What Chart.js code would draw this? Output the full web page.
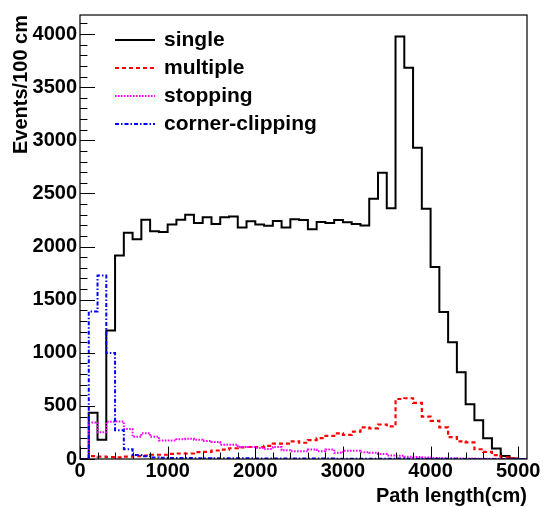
<!DOCTYPE html>
<html>
<head>
<meta charset="utf-8">
<script src="https://cdn.jsdelivr.net/npm/chart.js@4.4.1/dist/chart.umd.min.js"></script>
<style>
  html, body { margin: 0; padding: 0; background: #fff; }
  #wrap { width: 547px; height: 507px; position: relative; }
</style>
</head>
<body>
<div id="wrap"><canvas id="c"></canvas></div>
<script>
// Bin edges (cm), 100 cm bins
const binEdges = [0,100,200,300,400,500,600,700,800,900,1000,1100,1200,1300,1400,1500,1600,1700,1800,1900,
  2000,2100,2200,2300,2400,2500,2600,2700,2800,2900,3000,3100,3200,3300,3400,3500,3600,3700,3800,3900,
  4000,4100,4200,4300,4400,4500,4600,4700,4800,4900,5000,5100];

const seriesNames = ['single', 'multiple', 'stopping', 'corner-clipping'];

const singleVals = [0,435,181,1209,1915,2130,2069,2253,2145,2138,2207,2253,2299,2222,2277,2212,2277,2284,2180,2238,
  2207,2195,2241,2180,2256,2250,2164,2231,2222,2250,2228,2213,2198,2449,2695,2360,3978,3683,2931,2357,
  1808,1384,1099,817,516,365,196,98,28,5,0];

const multipleVals = [0,28,22,18,15,22,28,31,40,40,49,52,52,64,68,80,89,101,110,113,
  113,123,144,144,166,153,178,196,218,242,227,258,298,288,325,307,565,572,528,399,
  359,298,205,166,156,92,67,37,16,5,0];

const stoppingVals = [0,344,251,350,353,282,209,242,209,175,175,187,190,182,169,160,135,135,113,113,
  104,95,113,83,74,74,89,74,89,58,77,77,64,58,46,34,30,21,18,14,
  10,8,6,5,4,3,2,2,1,1,0];

const cornerVals = [0,1388,1728,997,270,92,37,25,15,12,10,10,9,8,8,7,7,6,6,6,
  5,5,5,5,4,4,4,4,4,3,3,3,3,3,3,3,4,3,3,2,
  2,2,2,1,1,1,1,1,0,0,0];

const xTickValues = [0,1000,2000,3000,4000,5000];
const yTickValues = [0,500,1000,1500,2000,2500,3000,3500,4000];

// one point per bin lower edge, plus the closing upper edge
function histPoints(vals) {
  const pts = [{ x: binEdges[0], y: vals[0] }];
  vals.forEach((v, i) => pts.push({ x: binEdges[i + 1], y: v }));
  return pts;
}

const FONT = '"Liberation Sans", Arial, Helvetica, sans-serif';

const styles = [
  { color: '#000000', dash: [], width: 2 },
  { color: '#ff0000', dash: [4, 3], width: 2.2 },
  { color: '#ff00ff', dash: [1.6, 1.4], width: 2 },
  { color: '#0000ff', dash: [4, 2, 1.5, 2], width: 2 }
];
const allVals = [singleVals, multipleVals, stoppingVals, cornerVals];

const datasets = allVals.map((vals, i) => ({
  label: seriesNames[i],
  data: histPoints(vals),
  borderColor: styles[i].color,
  borderDash: styles[i].dash,
  borderWidth: styles[i].width,
  stepped: 'after',
  pointRadius: 0,
  fill: false,
  tension: 0,
  order: 4 - i
}));

const framePlugin = {
  id: 'rootFrame',
  afterDatasetsDraw(chart) {
    const { ctx, chartArea: a, scales } = chart;
    const xs = scales.x, ys = scales.y;
    ctx.save();
    ctx.strokeStyle = '#000';
    ctx.lineWidth = 1;
    // inward ticks, y axis
    ctx.beginPath();
    for (let v = 0; v <= ys.max; v += 100) {
      const py = Math.round(ys.getPixelForValue(v)) + 0.5;
      const len = (v % 500 === 0) ? 15 : 7.5;
      ctx.moveTo(a.left, py); ctx.lineTo(a.left + len, py);
    }
    // inward ticks, x axis
    for (let v = 0; v <= xs.max; v += 200) {
      const px = Math.round(xs.getPixelForValue(v)) + 0.5;
      const len = (v % 1000 === 0) ? 12.5 : 6.5;
      ctx.moveTo(px, a.bottom); ctx.lineTo(px, a.bottom - len);
    }
    ctx.stroke();
    ctx.lineWidth = 1.2;
    ctx.strokeRect(a.left, a.top, a.right - a.left, a.bottom - a.top);
    // legend
    const rows = [40, 68, 96, 124];
    chart.data.datasets.forEach((ds, i) => {
      const y = rows[i];
      ctx.save();
      ctx.strokeStyle = ds.borderColor;
      ctx.lineWidth = ds.borderWidth;
      ctx.setLineDash(ds.borderDash);
      ctx.beginPath();
      ctx.moveTo(115, y); ctx.lineTo(155, y);
      ctx.stroke();
      ctx.restore();
      ctx.fillStyle = '#000';
      ctx.font = 'bold 21px ' + FONT;
      ctx.textAlign = 'left';
      ctx.textBaseline = 'middle';
      ctx.fillText(ds.label, 164, y);
    });
    ctx.restore();
  }
};

new Chart(document.getElementById('c'), {
  type: 'line',
  data: { datasets },
  plugins: [framePlugin],
  options: {
    responsive: true,
    maintainAspectRatio: false,
    animation: false,
    devicePixelRatio: 1,
    layout: { padding: { top: 5, right: 20, left: 0, bottom: 0 } },
    plugins: { legend: { display: false }, tooltip: { enabled: false } },
    scales: {
      x: {
        type: 'linear',
        min: 0, max: 5100,
        afterFit(s) { s.height = 48; },
        afterBuildTicks(s) { s.ticks = xTickValues.map(v => ({ value: v })); },
        grid: { display: false, drawTicks: false },
        border: { display: false },
        ticks: {
          padding: 0,
          maxRotation: 0,
          autoSkip: false,
          color: '#000',
          font: { family: FONT, size: 20, weight: 'bold' },
          callback: v => String(v)
        },
        title: {
          display: true,
          text: 'Path length(cm)',
          align: 'end',
          color: '#000',
          font: { family: FONT, size: 20, weight: 'bold', lineHeight: 1 },
          padding: { top: 0, bottom: 1 }
        }
      },
      y: {
        type: 'linear',
        min: 0, max: 4180,
        afterFit(s) { s.width = 80; },
        afterBuildTicks(s) { s.ticks = yTickValues.map(v => ({ value: v })); },
        grid: { display: false, drawTicks: false },
        border: { display: false },
        ticks: {
          padding: 3,
          autoSkip: false,
          color: '#000',
          font: { family: FONT, size: 20, weight: 'bold' },
          callback: v => String(v)
        },
        title: {
          display: true,
          text: 'Events/100 cm',
          align: 'end',
          color: '#000',
          font: { family: FONT, size: 20, weight: 'bold', lineHeight: 1 },
          padding: { top: 11, bottom: 0 }
        }
      }
    }
  }
});
</script>
</body>
</html>
